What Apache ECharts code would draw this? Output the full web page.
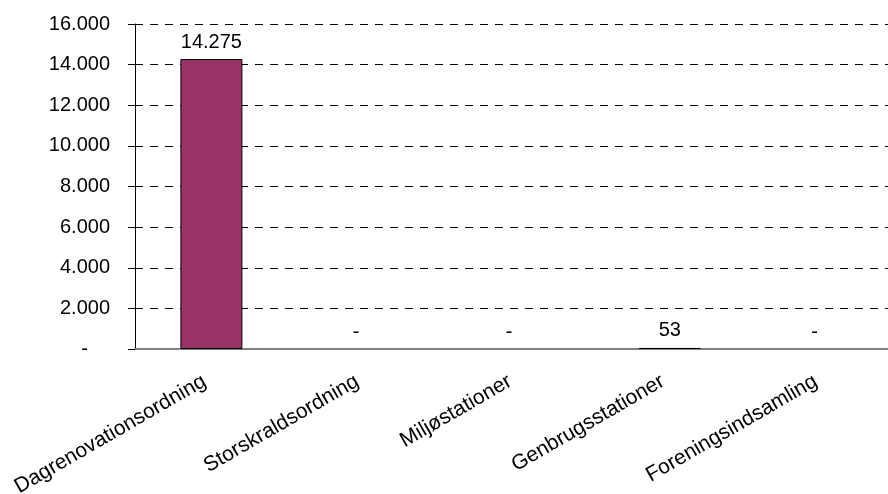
<!DOCTYPE html>
<html>
<head>
<meta charset="utf-8">
<script src="https://cdn.jsdelivr.net/npm/echarts@6/dist/echarts.min.js"></script>
<style>
  html, body { margin: 0; padding: 0; background: #fff; }
  #chart { width: 888px; height: 494px; }
</style>
</head>
<body>
<div id="chart"></div>
<script>
const categories = ['Dagrenovationsordning', 'Storskraldsordning', 'Miljøstationer', 'Genbrugsstationer', 'Foreningsindsamling'];
const values = [14275, 0, 0, 53, 0];
const yTicks = [0, 2000, 4000, 6000, 8000, 10000, 12000, 14000, 16000];

// danish thousands separator, zero shown as "-"
const fmt = (v) => String(Math.round(v)).replace(/\B(?=(\d{3})+(?!\d))/g, '.');

const chart = echarts.init(document.getElementById('chart'));
const font = 'Liberation Sans, Arial, sans-serif';
const fs = 20;

chart.setOption({
  animation: false,
  grid: { left: 135, right: -11, top: 24, bottom: 145, outerBoundsMode: 'none', containLabel: false },
  xAxis: {
    type: 'category',
    data: categories,
    axisLine: { lineStyle: { color: '#808080', width: 2 } },
    axisTick: { lineStyle: { color: '#808080' }, length: 6 },
    axisLabel: {
      rotate: 30,
      interval: 0,
      margin: 27,
      padding: [0, 8, 0, 0],
      color: '#000',
      fontFamily: font,
      fontSize: 21
    }
  },
  yAxis: {
    type: 'value',
    min: yTicks[0],
    max: yTicks[yTicks.length - 1],
    interval: 2000,
    axisLine: { show: true, lineStyle: { color: '#000' } },
    axisTick: { show: true, length: 7, lineStyle: { color: '#000' } },
    splitLine: { lineStyle: { color: '#000', type: [8, 7] } },
    axisLabel: {
      margin: 25,
      color: '#000',
      fontFamily: font,
      fontSize: fs,
      formatter: (v) => v === 0 ? '{d|-}' : fmt(v),
      rich: { d: { padding: [0, 22, 0, 0], fontSize: fs, fontFamily: font, color: '#000' } }
    }
  },
  series: [{
    type: 'bar',
    data: values.map(v => v === 0 ? { value: v, itemStyle: { borderWidth: 0 } } : v),
    barWidth: 62,
    itemStyle: { color: '#993366', borderColor: '#000', borderWidth: 1 },
    label: {
      show: true,
      position: 'top',
      distance: 7,
      color: '#000',
      fontFamily: font,
      fontSize: fs,
      formatter: (p) => p.value === 0 ? '{d|-}' : fmt(p.value),
      rich: { d: { padding: [0, 16, 0, 0], fontSize: fs, fontFamily: font, color: '#000' } }
    }
  }]
});
</script>
</body>
</html>
